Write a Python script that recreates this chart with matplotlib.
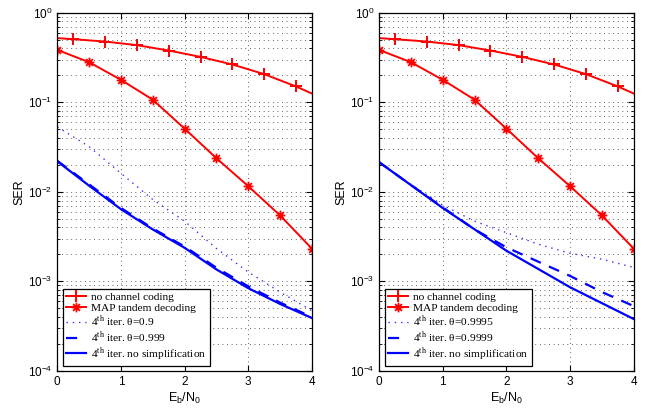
import math

import matplotlib
matplotlib.use("Agg")
import matplotlib.pyplot as plt
from matplotlib.path import Path
from matplotlib.ticker import FuncFormatter, LogLocator, NullFormatter

plt.rcParams["font.family"] = ["Liberation Sans", "DejaVu Sans"]
plt.rcParams["mathtext.fontset"] = "custom"
plt.rcParams["mathtext.rm"] = "Liberation Serif"
plt.rcParams["mathtext.sf"] = "Liberation Sans"

# red curves (same in both panels)
uncoded_x = [0, 0.25, 0.75, 1.25, 1.75, 2.25, 2.75, 3.25, 3.75, 4]
uncoded_ser = [0.52, 0.506, 0.476, 0.434, 0.378, 0.321, 0.264, 0.206, 0.15, 0.125]
map_x = [0, 0.5, 1.0, 1.5, 2.0, 2.5, 3.0, 3.5, 4.0]
map_ser = [0.384, 0.28, 0.178, 0.1067, 0.0507, 0.0237, 0.01155, 0.00545, 0.00232]

# left panel
snr = [0, 0.5, 1.0, 1.5, 2.0, 2.5, 3.0, 3.5, 4.0]
left_theta_a = [0.053, 0.032, 0.0161, 0.0082, 0.0047, 0.00233, 0.00127, 0.00076, 0.00047]
left_theta_b = [0.0222, 0.0121, 0.0066, 0.0039, 0.00245, 0.00142, 0.00088, 0.00058, 0.00040]
left_full = [0.0219, 0.0117, 0.0064, 0.0038, 0.00237, 0.00136, 0.00084, 0.00056, 0.00039]
left_labels = ["0.9", "0.999"]

# right panel
right_theta_a = [0.0215, 0.0121, 0.0071, 0.0047, 0.0035, 0.0026, 0.00206, 0.00177, 0.00143]
right_theta_b = [0.0215, 0.0119, 0.0067, 0.0038, 0.0024, 0.00166, 0.00115, 0.00076, 0.00053]
right_full_x = [0, 1, 2, 3, 4]
right_full = [0.0214, 0.0066, 0.0022, 0.00086, 0.00038]
right_labels = ["0.9995", "0.9999"]

# MATLAB-like asterisk marker (+ and x combined)
star_path = Path(
    [(-1, 0), (1, 0), (0, -1), (0, 1), (-0.7, -0.7), (0.7, 0.7), (-0.7, 0.7), (0.7, -0.7)],
    [Path.MOVETO, Path.LINETO] * 4,
)

fig = plt.figure(figsize=(6.48, 4.09), dpi=100)
ax_left = fig.add_axes([0.0884, 0.093, 0.393, 0.876])
ax_right = fig.add_axes([0.585, 0.093, 0.393, 0.876])


def decade_label(v, pos):
    return r"$\mathsf{10^{%d}}$" % round(math.log10(v))


def draw_panel(ax, a_x, a_y, b_x, b_y, full_x, full_y, labels):
    ax.plot(uncoded_x, uncoded_ser, color="red", lw=1.4, marker="+", ms=8, mew=1.4,
            markevery=list(range(1, 9)), label="no channel coding")
    ax.plot(map_x, map_ser, color="red", lw=1.4, marker=star_path, ms=7, mew=1.3,
            mfc="none", label="MAP tandem decoding")
    ax.plot(a_x, a_y, color="#3030ff", lw=1.0, ls=(0, (1, 3.5)),
            label=r"4$^{\rm th}$ iter. θ=" + labels[0])
    ax.plot(b_x, b_y, color="blue", lw=1.6, ls=(0, (5, 4)),
            label=r"4$^{\rm th}$ iter. θ=" + labels[1])
    ax.plot(full_x, full_y, color="blue", lw=1.6,
            label=r"4$^{\rm th}$ iter. no simplification")

    ax.set_yscale("log")
    ax.set_xlim(0, 4)
    ax.set_ylim(1e-4, 1)
    ax.set_xticks([0, 1, 2, 3, 4])
    ax.yaxis.set_major_locator(LogLocator(base=10, numticks=10))
    ax.yaxis.set_minor_locator(LogLocator(base=10, subs=range(2, 10), numticks=10))
    ax.yaxis.set_major_formatter(FuncFormatter(decade_label))
    ax.yaxis.set_minor_formatter(NullFormatter())
    ax.tick_params(which="both", direction="in", top=True, right=True, labelsize=8.5)
    ax.tick_params(which="major", length=4)
    ax.tick_params(which="minor", length=2)
    ax.grid(True, which="major", axis="x", color="#303030", ls=(0, (1, 4.5)), lw=0.6)
    ax.grid(True, which="both", axis="y", color="#303030", ls=(0, (1, 4.5)), lw=0.6)
    for s in ax.spines.values():
        s.set_linewidth(0.9)

    ax.set_ylabel("SER", fontsize=9, labelpad=2)
    ax.set_xlabel(r"E$_\mathsf{b}$/N$_\mathsf{0}$", fontsize=9, labelpad=2)

    leg = ax.legend(loc="lower left", prop={"family": "Liberation Serif", "size": 8.2},
                    handlelength=1.75, labelspacing=0.05, borderpad=0.3,
                    handletextpad=0.45, fancybox=False, framealpha=1,
                    borderaxespad=0, bbox_to_anchor=(0.022, 0.014))
    leg.get_frame().set_edgecolor("black")
    leg.get_frame().set_linewidth(0.9)


draw_panel(ax_left, snr, left_theta_a, snr, left_theta_b, snr, left_full, left_labels)
draw_panel(ax_right, snr, right_theta_a, snr, right_theta_b, right_full_x, right_full, right_labels)

fig.savefig("out.png", dpi=100)
